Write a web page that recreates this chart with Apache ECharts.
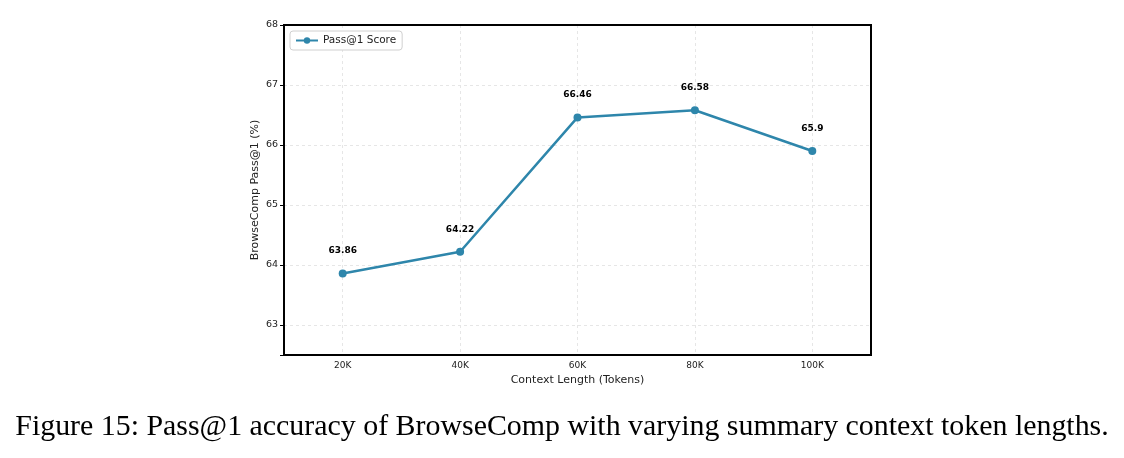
<!DOCTYPE html>
<html>
<head>
<meta charset="utf-8">
<script src="https://cdn.jsdelivr.net/npm/echarts@6/dist/echarts.min.js"></script>
<style>
  html, body { margin: 0; padding: 0; background: #fff; }
  #main { width: 1124px; height: 458px; }
</style>
</head>
<body>
<div id="main"></div>
<script>
// data
var contextLengths = ['20K', '40K', '60K', '80K', '100K'];
var passScores = [63.86, 64.22, 66.46, 66.58, 65.9];
var seriesName = 'Pass@1 Score';

var chart = echarts.init(document.getElementById('main'));

var gridLine = { show: true, lineStyle: { color: '#e6e6e6', type: [3, 3], width: 1 } };

var option = {
    backgroundColor: '#fff',
    animation: false,
    textStyle: { fontFamily: 'DejaVu Sans' },
    title: {
        text: 'Figure 15: Pass@1 accuracy of BrowseComp with varying summary context token lengths.',
        left: 'center',
        top: 407,
        textStyle: {
            fontFamily: 'Liberation Serif',
            fontWeight: 'normal',
            fontSize: 29.9,
            color: '#000'
        }
    },
    legend: {
        data: [seriesName],
        left: 290,
        top: 31,
        padding: [4, 6, 4, 5],
        itemWidth: 22,
        itemHeight: 8,
        itemGap: 6,
        borderColor: '#d0d0d0',
        borderWidth: 1,
        borderRadius: 3,
        backgroundColor: '#fff',
        textStyle: { fontSize: 10.5, color: '#222', fontFamily: 'DejaVu Sans' }
    },
    grid: {
        left: 284,
        right: 253,
        top: 25,
        bottom: 103,
        show: true,
        borderColor: '#000',
        borderWidth: 2
    },
    xAxis: [{
        type: 'category',
        data: contextLengths,
        boundaryGap: true,
        name: 'Context Length (Tokens)',
        nameLocation: 'middle',
        nameGap: 20,
        nameTextStyle: { fontSize: 11, color: '#222' },
        axisLine: { lineStyle: { color: '#000', width: 2 } },
        axisTick: { alignWithLabel: true, length: 4, lineStyle: { color: '#000', width: 1 } },
        axisLabel: { fontSize: 9, color: '#222', margin: 6 },
        splitLine: Object.assign({ alignWithLabel: true }, gridLine)
    }, {
        // top frame edge, drawn over the grid lines
        type: 'category',
        position: 'top',
        data: contextLengths,
        axisLine: { show: true, lineStyle: { color: '#000', width: 2 } },
        axisTick: { show: false },
        axisLabel: { show: false },
        splitLine: { show: false }
    }],
    yAxis: {
        type: 'value',
        min: 62.5,
        max: 68,
        splitNumber: 5,
        name: 'BrowseComp Pass@1 (%)',
        nameLocation: 'middle',
        nameGap: 23,
        nameMoveOverlap: false,
        nameTextStyle: { fontSize: 11, color: '#222' },
        axisLine: { show: true, lineStyle: { color: '#000', width: 2 } },
        axisTick: { show: true, length: 4, lineStyle: { color: '#000', width: 1 } },
        axisLabel: {
            fontSize: 9.5, color: '#222', margin: 6,
            formatter: function (v) { return Number.isInteger(v) ? String(v) : ''; }
        },
        splitLine: gridLine
    },
    series: [{
        name: seriesName,
        type: 'line',
        data: passScores,
        symbol: 'circle',
        symbolSize: 8,
        lineStyle: { color: '#2E86AB', width: 2.5 },
        itemStyle: { color: '#2E86AB' },
        label: {
            show: true,
            position: 'top',
            distance: 14,
            fontSize: 9,
            fontWeight: 'bold',
            color: '#000'
        }
    }]
};

chart.setOption(option);
</script>
</body>
</html>
